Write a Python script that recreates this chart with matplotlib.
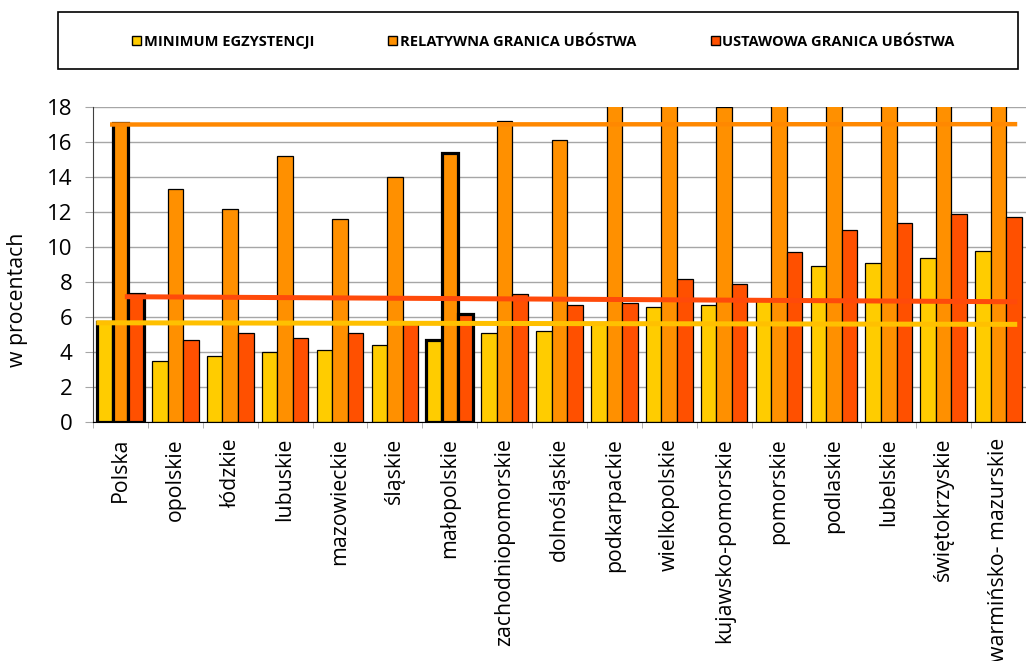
import numpy as np
import matplotlib
matplotlib.use('Agg')
import matplotlib.pyplot as plt
from matplotlib.patches import Patch, Rectangle

plt.rcParams['font.family'] = ['Open Sans', 'DejaVu Sans']

regions = ['Polska', 'opolskie', 'łódzkie', 'lubuskie', 'mazowieckie', 'śląskie',
           'małopolskie', 'zachodniopomorskie', 'dolnośląskie', 'podkarpackie',
           'wielkopolskie', 'kujawsko-pomorskie', 'pomorskie', 'podlaskie',
           'lubelskie', 'świętokrzyskie', 'warmińsko- mazurskie']

minimum = [5.7, 3.5, 3.8, 4.0, 4.1, 4.4, 4.7, 5.1, 5.2, 5.7, 6.6, 6.7, 7.0, 8.9, 9.1, 9.4, 9.8]
relatywna = [17.1, 13.3, 12.2, 15.2, 11.6, 14.0, 15.4, 17.2, 16.1, 21.0, 18.6,
             18.0, 19.8, 21.4, 24.7, 22.9, 25.5]
ustawowa = [7.3, 4.7, 5.1, 4.8, 5.1, 5.6, 6.2, 7.3, 6.7, 6.8, 8.2, 7.9, 9.7, 11.0, 11.4, 11.9, 11.7]

series_names = ['MINIMUM EGZYSTENCJI', 'RELATYWNA GRANICA UBÓSTWA', 'USTAWOWA GRANICA UBÓSTWA']
colors = ['#FFCC00', '#FF9000', '#FF5000']

# poziomy średnie (Polska) - linie przez cały wykres: (początek, koniec)
line_minimum = [5.67, 5.58]
line_relatywna = [17.0, 17.02]
line_ustawowa = [7.16, 6.87]
line_colors = ['#FFC000', '#FF8800', '#FF4A0A']

highlight = ['Polska', 'małopolskie']

fig = plt.figure(figsize=(10.26, 6.61), dpi=100)
ax = fig.add_axes([93 / 1026, 1 - 422 / 661, 933 / 1026, 315 / 661])

x = np.arange(len(regions))
w = 0.283
for k, (vals, col) in enumerate(zip([minimum, relatywna, ustawowa], colors)):
    lws = [2.3 if r in highlight else 0.9 for r in regions]
    ax.bar(x + (k - 1) * w, vals, width=w, color=col, edgecolor='black',
           linewidth=lws, zorder=2)

xmax = 16.34
ax.plot([-0.44, xmax], line_minimum, color=line_colors[0], lw=3.6, zorder=3,
        solid_capstyle='butt')
ax.plot([-0.19, xmax], line_relatywna, color=line_colors[1], lw=3.2, zorder=3,
        solid_capstyle='butt')
ax.plot([0.08, xmax], line_ustawowa, color=line_colors[2], lw=3.6, zorder=3,
        solid_capstyle='butt')

ax.set_xlim(-0.5, xmax)
ax.set_ylim(0, 18)
ax.set_yticks(np.arange(0, 19, 2))
ax.yaxis.grid(True, color='#A6A6A6', lw=1.0, zorder=0)
ax.set_axisbelow(True)

ax.set_xticks(x)
ax.set_xticklabels(regions, rotation=90, fontsize=15.3)
ax.set_xticks(np.arange(-0.5, len(regions), 1), minor=True)
ax.tick_params(axis='x', which='major', length=0, pad=11.5)
ax.tick_params(axis='x', which='minor', length=4, color='#A6A6A6', direction='out')
ax.tick_params(axis='y', labelsize=16, length=6, color='#A6A6A6', pad=9)

for s in ['top', 'right']:
    ax.spines[s].set_visible(False)
ax.spines['left'].set_color('#404040')
ax.spines['bottom'].set_color('black')

ax.set_ylabel('w procentach', fontsize=15.3)
ax.yaxis.set_label_coords(-0.070, 0.387)

# legenda w ramce u góry
fig.patches.append(Rectangle((58 / 1026, 1 - 69 / 661), 960 / 1026, 57 / 661,
                             transform=fig.transFigure, fill=False,
                             edgecolor='black', lw=1.2))
handles = [Patch(facecolor=c, edgecolor='black', lw=1.0) for c in colors]
fig.legend(handles, series_names, ncol=3, loc='center left',
           bbox_to_anchor=(132 / 1026, 1 - 42 / 661), frameon=False,
           prop={'weight': 'bold', 'size': 10.5}, handlelength=0.6, handleheight=0.6,
           handletextpad=0.2, columnspacing=5.1, borderpad=0, borderaxespad=0)

fig.savefig('out.png', dpi=100)
